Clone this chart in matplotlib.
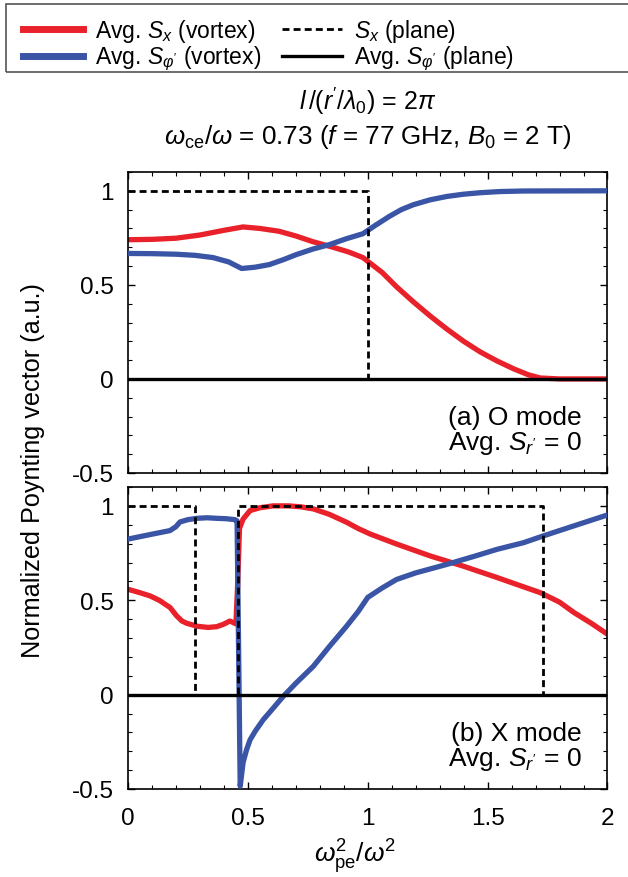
import matplotlib
matplotlib.use("Agg")
from matplotlib import pyplot as plt
from matplotlib.patches import Rectangle
from matplotlib.ticker import MultipleLocator, FormatStrFormatter

plt.rcParams['font.family'] = ['Liberation Sans', 'DejaVu Sans']
plt.rcParams['mathtext.fontset'] = 'custom'
plt.rcParams['mathtext.rm'] = 'Liberation Sans'
plt.rcParams['mathtext.it'] = 'Liberation Sans:italic'
plt.rcParams['mathtext.sf'] = 'Liberation Sans'
plt.rcParams['axes.unicode_minus'] = False

RED = '#e8212b'
BLUE = '#3a55a5'

# (a) O mode
o_red_x = [0, 0.1, 0.2, 0.3, 0.4, 0.48, 0.55, 0.63, 0.7, 0.77, 0.855, 0.92, 0.98, 1.06, 1.12,
           1.19, 1.26, 1.33, 1.40, 1.47, 1.54, 1.61, 1.67, 1.72, 1.8, 2.0]
o_red_y = [0.74, 0.742, 0.748, 0.765, 0.79, 0.808, 0.80, 0.785, 0.76, 0.73, 0.70, 0.675, 0.645,
           0.566, 0.49, 0.41, 0.335, 0.265, 0.20, 0.143, 0.095, 0.053, 0.022, 0.005, 0.0, 0.0]
o_blue_x = [0, 0.1, 0.2, 0.28, 0.355, 0.42, 0.474, 0.53, 0.59, 0.65, 0.70, 0.77, 0.84, 0.91,
            0.98, 1.03, 1.09, 1.14, 1.19, 1.26, 1.33, 1.40, 1.47, 1.55, 1.65, 2.0]
o_blue_y = [0.667, 0.666, 0.663, 0.657, 0.645, 0.622, 0.587, 0.594, 0.608, 0.635, 0.66, 0.69,
            0.714, 0.745, 0.772, 0.815, 0.864, 0.90, 0.926, 0.952, 0.97, 0.982, 0.99, 0.996,
            0.999, 1.0]
o_plane_x = [0, 1.0, 1.0, 2.0]
o_plane_y = [1, 1, 0, 0]

# (b) X mode
x_red_x = [0, 0.05, 0.092, 0.13, 0.175, 0.203, 0.225, 0.245, 0.29, 0.334, 0.37, 0.397, 0.425,
           0.45, 0.458, 0.465, 0.48, 0.509, 0.55, 0.605, 0.67, 0.72, 0.773, 0.84, 0.912, 0.96,
           1.01, 1.12, 1.26, 1.40, 1.54, 1.72, 1.80, 1.86, 1.93, 2.0]
x_red_y = [0.558, 0.54, 0.523, 0.50, 0.462, 0.417, 0.39, 0.378, 0.362, 0.356, 0.36, 0.372, 0.39,
           0.375, 0.6, 0.88, 0.93, 0.975, 0.99, 1.0, 1.0, 0.995, 0.984, 0.955, 0.913, 0.88,
           0.851, 0.798, 0.735, 0.68, 0.62, 0.54, 0.49, 0.435, 0.38, 0.32]
x_blue_x = [0, 0.1, 0.175, 0.2, 0.217, 0.25, 0.287, 0.33, 0.37, 0.41, 0.446, 0.455, 0.468, 0.48,
            0.495, 0.509, 0.53, 0.564, 0.6, 0.647, 0.7, 0.773, 0.84, 0.912, 0.96, 1.0, 1.06,
            1.12, 1.2, 1.33, 1.45, 1.54, 1.65, 1.73, 1.85, 2.0]
x_blue_y = [0.824, 0.85, 0.869, 0.89, 0.915, 0.927, 0.934, 0.937, 0.934, 0.932, 0.927, 0.92,
            -0.485, -0.36, -0.29, -0.24, -0.195, -0.133, -0.08, -0.01, 0.06, 0.15, 0.255, 0.363,
            0.44, 0.515, 0.565, 0.61, 0.645, 0.69, 0.735, 0.77, 0.805, 0.84, 0.89, 0.952]
x_plane_x = [0, 0.279, 0.279, 0.46, 0.46, 1.73, 1.73, 2.0]
x_plane_y = [1, 1, 0, 0, 1, 1, 0, 0]

panels = [
    (o_red_x, o_red_y, o_blue_x, o_blue_y, o_plane_x, o_plane_y, '(a) O mode'),
    (x_red_x, x_red_y, x_blue_x, x_blue_y, x_plane_x, x_plane_y, '(b) X mode'),
]

fig = plt.figure(figsize=(6.28, 8.78), dpi=100)
W, H = 628.0, 878.0
left, right = 128 / W, 607.5 / W
boxes = [(173, 474), (488, 790)]

handles = None
for i, (rx, ry, bx, by, px, py, tag) in enumerate(panels):
    top, bot = boxes[i]
    ax = fig.add_axes([left, 1 - bot / H, right - left, (bot - top) / H])
    l1, = ax.plot(rx, ry, color=RED, lw=3.8, solid_joinstyle='round', zorder=2)
    l2, = ax.plot(bx, by, color=BLUE, lw=3.8, solid_joinstyle='round', zorder=3)
    l3, = ax.plot(px, py, color='black', lw=2.0, linestyle=(0, (2.5, 1.5)), zorder=4)
    l4, = ax.plot([0, 2], [0, 0], color='black', lw=2.4, zorder=5)
    handles = [l1, l2, l3, l4]
    ax.set_xlim(0, 2)
    ax.set_ylim(-0.5, 1.1)
    ax.xaxis.set_major_locator(MultipleLocator(0.5))
    ax.xaxis.set_minor_locator(MultipleLocator(0.1))
    ax.yaxis.set_major_locator(MultipleLocator(0.5))
    ax.yaxis.set_minor_locator(MultipleLocator(0.1))
    ax.xaxis.set_major_formatter(FormatStrFormatter('%g'))
    ax.yaxis.set_major_formatter(FormatStrFormatter('%g'))
    ax.tick_params(which='both', direction='in', top=True, right=True, labelsize=17.5)
    ax.tick_params(which='major', length=5, width=1)
    ax.tick_params(which='minor', length=3, width=0.8)
    ax.tick_params(axis='y', pad=10)
    ax.tick_params(axis='x', pad=13)
    for s in ax.spines.values():
        s.set_linewidth(1.2)
    if i == 0:
        ax.tick_params(labelbottom=False)
    ax.text(0.947, 0.185, tag, transform=ax.transAxes, ha='right', va='center', fontsize=19)
    ax.text(0.947, 0.10, r"Avg. $S_{r'}$ = 0", transform=ax.transAxes, ha='right',
            va='center', fontsize=19)

labels = [r'Avg. $S_x$ (vortex)', r"Avg. $S_{\varphi'}$ (vortex)",
          r'$S_x$ (plane)', r"Avg. $S_{\varphi'}$ (plane)"]
leg = fig.legend(handles, labels, loc='upper left', bbox_to_anchor=(7 / W, 1 - 2 / H),
                 ncol=2, frameon=False, fontsize=16.5, handlelength=2.6, handletextpad=0.55,
                 columnspacing=0.9, labelspacing=0.0, borderpad=0.2)
for h in leg.legend_handles[:2]:
    h.set_linewidth(5)
fig.patches.append(Rectangle((6 / W, 1 - 73 / H), 630 / W, 68 / H, transform=fig.transFigure,
                             fill=False, edgecolor='#555555', lw=1.2))

cx = (128 + 607.5) / 2 / W
fig.text(cx, 1 - 101 / H, r"$l\,/(r'/\lambda_0)$ = 2$\pi$", ha='center', va='center', fontsize=18)
fig.text(cx, 1 - 137 / H, r"$\omega_{\rm ce}/\omega$ = 0.73 ($f$ = 77 GHz, $B_0$ = 2 T)",
         ha='center', va='center', fontsize=18.7)
fig.text(33 / W, 1 - 471 / H, 'Normalized Poynting vector (a.u.)', rotation=90,
         ha='center', va='center', fontsize=18.2)
fig.text(355 / W, 1 - 857 / H, r'$\omega_{\rm pe}^2/\omega^2$', ha='center', va='center',
         fontsize=19)

fig.savefig('out.png', dpi=100)
